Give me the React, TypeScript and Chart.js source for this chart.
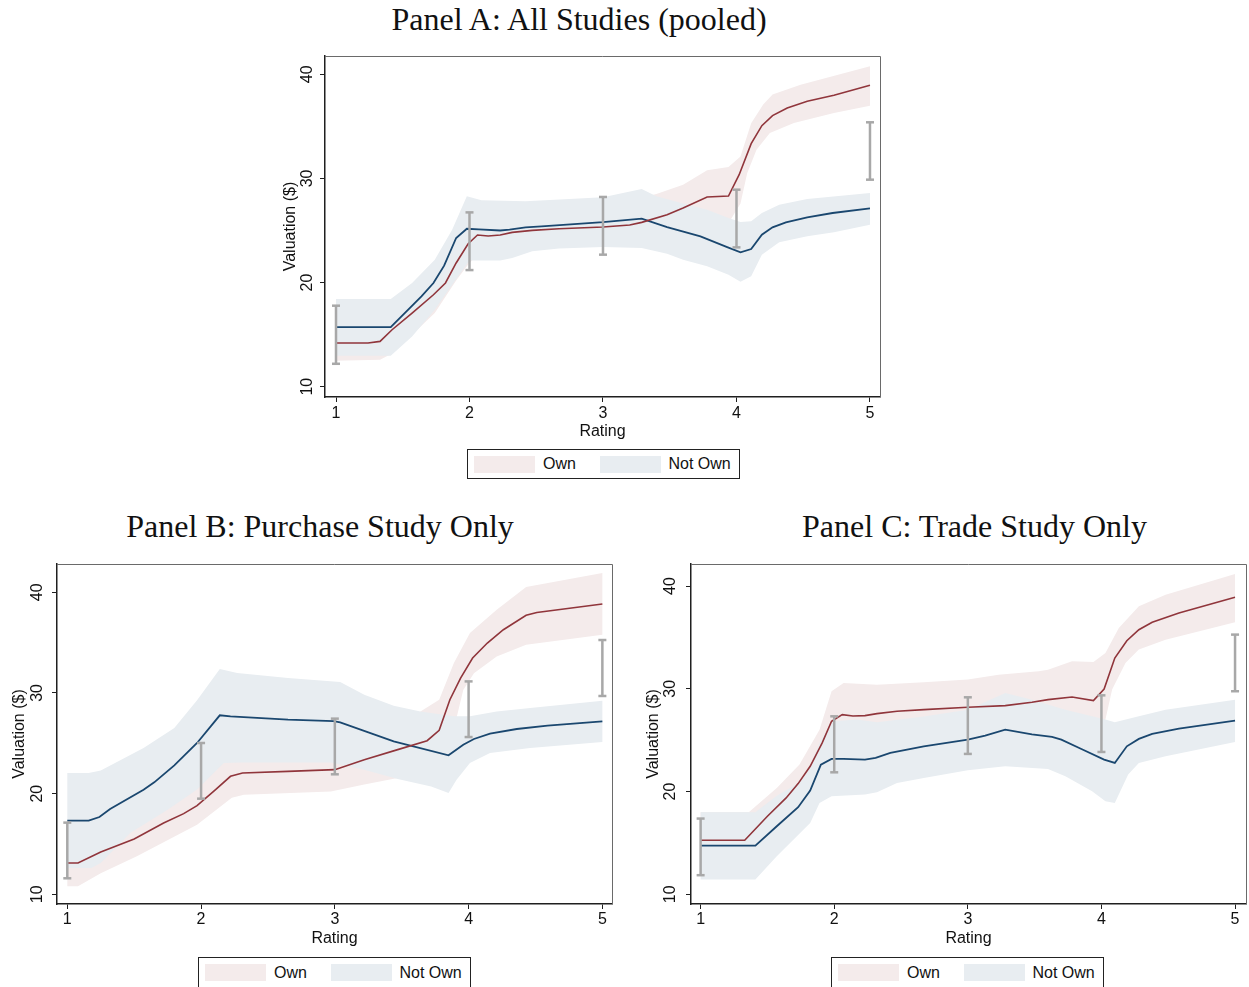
import React, { useEffect, useRef } from 'react';
import { Chart, registerables } from 'chart.js';

Chart.register(...registerables);

type Pt = [number, number];

// ---------- shared ----------
const RATING_TICKS = [1, 2, 3, 4, 5];
const VALUE_TICKS = [10, 20, 30, 40];
const ERR_RATINGS = [1, 2, 3, 4, 5];
const SERIES_LABELS = ['Own', 'Not Own'];
const X_TITLE = 'Rating';
const Y_TITLE = 'Valuation ($)';

// ---------- Panel A: All Studies (pooled) ----------
const A_OWN: Pt[] = [
  [1, 14.2], [1.24, 14.2], [1.33, 14.35], [1.42, 15.47], [1.57, 17.07], [1.73, 18.83], [1.82, 19.96],
  [1.9, 21.88], [1.99, 23.73], [2.06, 24.57], [2.14, 24.47], [2.23, 24.57], [2.32, 24.82], [2.47, 25.01],
  [2.67, 25.17], [3.0, 25.33], [3.2, 25.53], [3.29, 25.78], [3.48, 26.52], [3.6, 27.16], [3.78, 28.22],
  [3.94, 28.31], [4.02, 30.36], [4.11, 33.34], [4.19, 35.07], [4.27, 36.03], [4.38, 36.77], [4.53, 37.41],
  [4.73, 37.98], [5.0, 38.94],
];
const A_NOT: Pt[] = [
  [1, 15.73], [1.41, 15.73], [1.64, 18.67], [1.73, 19.96], [1.81, 21.62], [1.9, 24.28], [1.98, 25.17],
  [2.07, 25.1], [2.23, 25.0], [2.3, 25.08], [2.42, 25.3], [2.54, 25.4], [3.0, 25.8], [3.29, 26.14],
  [3.48, 25.33], [3.73, 24.44], [3.93, 23.41], [4.03, 22.9], [4.11, 23.22], [4.19, 24.6], [4.27, 25.3],
  [4.37, 25.78], [4.53, 26.26], [4.72, 26.68], [5.0, 27.13],
];
const A_OWN_HI: Pt[] = [
  [1, 16.0], [1.33, 16.2], [1.57, 18.6], [1.73, 20.5], [1.9, 23.5], [2.0, 25.6], [2.1, 26.1], [2.5, 26.5],
  [3.0, 27.1], [3.3, 28.2], [3.4, 28.5], [3.6, 29.4], [3.78, 30.78], [3.94, 31.1], [4.03, 32.1],
  [4.11, 35.3], [4.2, 37.1], [4.27, 38.05], [4.48, 39.0], [5.0, 40.77],
];
const A_OWN_LO: Pt[] = [
  [1, 12.5], [1.33, 12.6], [1.42, 13.2], [1.57, 15.0], [1.74, 17.07], [1.9, 20.2], [2.0, 21.9], [2.1, 23.0],
  [2.5, 23.4], [3.0, 23.7], [3.3, 24.0], [3.6, 25.0], [3.78, 25.6], [3.94, 25.7], [4.03, 27.6],
  [4.08, 30.5], [4.15, 32.76], [4.25, 34.36], [4.43, 35.32], [4.73, 36.29], [5.0, 36.99],
];
const A_NOT_HI: Pt[] = [
  [1, 18.42], [1.41, 18.42], [1.57, 19.96], [1.74, 22.2], [1.87, 25.08], [1.98, 28.28], [2.09, 27.9],
  [2.42, 27.8], [3.0, 28.2], [3.29, 28.99], [3.4, 28.28], [3.6, 27.6], [3.78, 27.0], [3.94, 26.2],
  [4.03, 25.82], [4.11, 25.88], [4.19, 26.68], [4.32, 27.48], [4.53, 28.02], [5.0, 28.6],
];
const A_NOT_LO: Pt[] = [
  [1, 12.97], [1.41, 12.97], [1.57, 14.83], [1.74, 17.4], [1.88, 19.96], [2.0, 22.13], [2.23, 22.13],
  [2.32, 22.36], [2.47, 23.0], [2.67, 23.28], [3.0, 23.41], [3.29, 23.32], [3.48, 22.77], [3.6, 22.2],
  [3.78, 21.56], [3.94, 20.76], [4.03, 20.08], [4.11, 20.6], [4.19, 22.68], [4.32, 23.86], [4.53, 24.44],
  [4.73, 24.82], [5.0, 25.56],
];
const A_ERR_LO = [12.2, 21.2, 22.68, 23.38, 29.88];
const A_ERR_HI = [17.78, 26.74, 28.22, 28.92, 35.39];

// ---------- Panel B: Purchase Study Only ----------
const B_OWN: Pt[] = [
  [1, 13.11], [1.08, 13.11], [1.25, 14.2], [1.5, 15.49], [1.72, 17.08], [1.87, 18.01], [1.97, 18.81],
  [2.1, 20.3], [2.22, 21.72], [2.31, 22.05], [2.65, 22.21], [3.0, 22.38], [3.22, 23.37], [3.47, 24.37],
  [3.69, 25.26], [3.78, 26.29], [3.86, 29.33], [3.94, 31.48], [4.03, 33.47], [4.14, 34.96], [4.26, 36.28],
  [4.43, 37.71], [4.51, 38.0], [5.0, 38.83],
];
const B_NOT: Pt[] = [
  [1, 17.31], [1.16, 17.31], [1.24, 17.68], [1.32, 18.47], [1.57, 20.39], [1.65, 21.12], [1.8, 22.81],
  [1.97, 25.03], [2.14, 27.78], [2.22, 27.68], [2.65, 27.35], [2.99, 27.21], [3.04, 27.08], [3.44, 25.2],
  [3.85, 23.81], [3.96, 24.86], [4.04, 25.43], [4.16, 25.96], [4.36, 26.42], [4.59, 26.75], [5.0, 27.18],
];
const B_OWN_HI: Pt[] = [
  [1, 15.2], [1.25, 16.2], [1.5, 17.4], [1.75, 18.68], [1.97, 21.39], [2.15, 23.14], [2.27, 23.2],
  [2.65, 23.3], [3.0, 23.6], [3.3, 24.8], [3.5, 26.2], [3.64, 28.17], [3.78, 29.33], [3.89, 32.97],
  [4.01, 35.95], [4.21, 38.27], [4.43, 40.52], [5.0, 41.91],
];
const B_OWN_LO: Pt[] = [
  [1, 10.79], [1.08, 10.79], [1.25, 12.1], [1.52, 13.77], [1.97, 16.9], [2.23, 19.6], [2.32, 19.9],
  [2.97, 20.2], [3.22, 20.9], [3.47, 21.55], [3.7, 22.6], [3.8, 24.0], [3.9, 27.0], [3.96, 30.3],
  [4.04, 31.97], [4.21, 33.63], [4.43, 34.79], [5.0, 35.78],
];
const B_NOT_HI: Pt[] = [
  [1, 22.05], [1.16, 22.05], [1.25, 22.31], [1.57, 24.53], [1.8, 26.52], [1.97, 29.27], [2.14, 32.38],
  [2.27, 31.98], [2.65, 31.49], [3.04, 31.09], [3.22, 29.83], [3.44, 28.74], [3.64, 28.17], [3.89, 27.68],
  [4.01, 27.68], [4.21, 28.17], [4.46, 28.51], [5.0, 29.23],
];
const B_NOT_LO: Pt[] = [
  [1, 12.62], [1.18, 12.62], [1.25, 13.11], [1.47, 16.09], [1.75, 18.41], [1.97, 20.4], [2.17, 23.04],
  [2.3, 23.1], [2.97, 23.1], [3.22, 22.38], [3.47, 21.45], [3.72, 20.72], [3.85, 20.06], [3.91, 21.39],
  [4.01, 23.04], [4.16, 24.04], [4.46, 24.53], [5.0, 25.13],
];
const B_ERR_LO = [11.59, 19.5, 21.92, 25.62, 29.7];
const B_ERR_HI = [17.12, 25.03, 27.45, 31.15, 35.26];

// ---------- Panel C: Trade Study Only ----------
const C_OWN: Pt[] = [
  [1, 15.26], [1.33, 15.26], [1.5, 17.6], [1.64, 19.38], [1.73, 20.77], [1.82, 22.46], [1.91, 24.73],
  [1.98, 26.84], [2.06, 27.48], [2.14, 27.35], [2.23, 27.39], [2.32, 27.58], [2.47, 27.81], [2.67, 27.97],
  [3.0, 28.2], [3.28, 28.36], [3.48, 28.68], [3.6, 28.94], [3.78, 29.2], [3.94, 28.85], [4.02, 29.98],
  [4.1, 32.99], [4.19, 34.68], [4.28, 35.75], [4.38, 36.47], [4.58, 37.37], [5.0, 38.9],
];
const C_NOT: Pt[] = [
  [1, 14.74], [1.41, 14.74], [1.57, 16.62], [1.73, 18.47], [1.82, 20.09], [1.9, 22.62], [1.98, 23.17],
  [2.07, 23.17], [2.23, 23.11], [2.31, 23.27], [2.42, 23.76], [2.67, 24.4], [3.0, 25.05], [3.13, 25.44],
  [3.28, 26.02], [3.48, 25.57], [3.63, 25.31], [3.7, 25.05], [3.85, 24.14], [4.02, 23.11], [4.1, 22.78],
  [4.19, 24.4], [4.28, 25.12], [4.38, 25.6], [4.58, 26.12], [5.0, 26.9],
];
const C_OWN_HI: Pt[] = [
  [1, 17.98], [1.36, 17.98], [1.57, 20.35], [1.74, 22.62], [1.89, 26.02], [1.98, 29.75], [2.07, 30.56],
  [2.32, 30.4], [2.67, 30.63], [3.0, 30.9], [3.23, 31.37], [3.53, 31.7], [3.6, 31.86], [3.78, 32.67],
  [3.94, 32.6], [4.03, 33.48], [4.13, 35.91], [4.28, 38.02], [4.48, 39.16], [5.0, 41.17],
];
const C_OWN_LO: Pt[] = [
  [1, 12.6], [1.33, 12.6], [1.5, 14.9], [1.73, 18.3], [1.9, 22.0], [2.0, 24.3], [2.1, 24.6], [2.5, 25.0],
  [3.0, 25.4], [3.5, 25.8], [3.78, 26.0], [3.94, 25.5], [4.03, 27.0], [4.08, 29.92], [4.18, 32.51],
  [4.28, 33.81], [4.48, 34.78], [5.0, 36.47],
];
const C_NOT_HI: Pt[] = [
  [1, 17.98], [1.41, 17.98], [1.57, 19.6], [1.73, 20.8], [1.82, 22.5], [1.9, 25.0], [1.99, 26.84],
  [2.17, 27.0], [2.32, 26.74], [2.67, 27.3], [3.0, 27.97], [3.28, 29.59], [3.48, 28.94], [3.73, 27.97],
  [3.93, 27.32], [4.03, 27.0], [4.1, 26.74], [4.28, 27.32], [4.48, 27.97], [5.0, 28.94],
];
const C_NOT_LO: Pt[] = [
  [1, 11.43], [1.41, 11.43], [1.57, 13.7], [1.82, 16.95], [1.89, 18.89], [1.98, 19.54], [2.23, 19.7],
  [2.32, 19.93], [2.47, 20.84], [2.67, 21.32], [3.0, 22.07], [3.28, 22.46], [3.6, 22.2], [3.73, 21.48],
  [3.93, 20.03], [4.03, 19.05], [4.1, 18.89], [4.2, 21.65], [4.28, 22.78], [4.48, 23.43], [5.0, 24.82],
];
const C_ERR_LO = [11.86, 21.87, 23.66, 23.85, 29.76];
const C_ERR_HI = [17.37, 27.32, 29.17, 29.36, 35.27];

// ---------- styling ----------
const OWN_LINE = '#90353B';
const NOT_LINE = '#1A476F';
const OWN_BAND = '#F4EBEB';
const NOT_BAND = '#E8EDF1';
const ERR_COLOR = '#A8A8A8';
const AXIS_COLOR = '#1f1f1f';
const FRAME_COLOR = '#6a6a6a';
const TEXT_COLOR = '#111111';
const SANS = '"Liberation Sans", Arial, sans-serif';
const SERIF = '"Liberation Serif", "Times New Roman", serif';

interface PanelSpec {
  title: string;
  titleCenter: number;
  titleTop: number;
  own: Pt[]; not: Pt[]; ownHi: Pt[]; ownLo: Pt[]; notHi: Pt[]; notLo: Pt[];
  errLo: number[]; errHi: number[];
  left: number; top: number; width: number; height: number;
  padTop: number; padRight: number; yAxisW: number; xAxisH: number;
  xMin: number; xMax: number; yMin: number; yMax: number;
  yTickPad: number; yTitlePad: number; xTickPad: number; xTitlePad: number;
  legendLeft: number; legendTop: number; legendH: number;
}

const PANELS: PanelSpec[] = [
  {
    title: 'Panel A: All Studies (pooled)', titleCenter: 579, titleTop: 3,
    own: A_OWN, not: A_NOT, ownHi: A_OWN_HI, ownLo: A_OWN_LO, notHi: A_NOT_HI, notLo: A_NOT_LO,
    errLo: A_ERR_LO, errHi: A_ERR_HI,
    left: 270, top: 50, width: 620, height: 395,
    padTop: 6, padRight: 10, yAxisW: 55, xAxisH: 48,
    xMin: 0.9176, xMax: 5.075, yMin: 9.011, yMax: 41.757,
    yTickPad: 4, yTitlePad: 11.2, xTickPad: 1.5, xTitlePad: 3.6,
    legendLeft: 467, legendTop: 449, legendH: 30,
  },
  {
    title: 'Panel B: Purchase Study Only', titleCenter: 320, titleTop: 510,
    own: B_OWN, not: B_NOT, ownHi: B_OWN_HI, ownLo: B_OWN_LO, notHi: B_NOT_HI, notLo: B_NOT_LO,
    errLo: B_ERR_LO, errHi: B_ERR_HI,
    left: 0, top: 558, width: 622, height: 397,
    padTop: 6, padRight: 10, yAxisW: 57, xAxisH: 51,
    xMin: 0.923, xMax: 5.072, yMin: 9.036, yMax: 42.811,
    yTickPad: 5.1, yTitlePad: 10.2, xTickPad: 0.6, xTitlePad: 6.4,
    legendLeft: 198, legendTop: 957, legendH: 31,
  },
  {
    title: 'Panel C: Trade Study Only', titleCenter: 974.5, titleTop: 510,
    own: C_OWN, not: C_NOT, ownHi: C_OWN_HI, ownLo: C_OWN_LO, notHi: C_NOT_HI, notLo: C_NOT_LO,
    errLo: C_ERR_LO, errHi: C_ERR_HI,
    left: 634, top: 558, width: 615, height: 397,
    padTop: 6, padRight: 3, yAxisW: 57, xAxisH: 51,
    xMin: 0.928, xMax: 5.082, yMin: 9.056, yMax: 42.141,
    yTickPad: 6.1, yTitlePad: 9.6, xTickPad: 0.6, xTitlePad: 6.4,
    legendLeft: 831, legendTop: 957, legendH: 31,
  },
];

const toXY = (pts: Pt[]) => pts.map(([x, y]) => ({ x, y }));
const bandShape = (hi: Pt[], lo: Pt[]) => [...toXY(hi), ...toXY(lo).reverse()];
const errData = (lo: number[], hi: number[]) =>
  ERR_RATINGS.flatMap((r, i) => [
    { x: r, y: lo[i] },
    { x: r, y: hi[i] },
    { x: r, y: null as any },
  ]);

const framePlugin = {
  id: 'plotFrame',
  afterDraw(chart: any) {
    const { ctx, chartArea: a } = chart;
    ctx.save();
    ctx.strokeStyle = FRAME_COLOR;
    ctx.lineWidth = 1;
    ctx.beginPath();
    ctx.moveTo(Math.round(a.left), Math.round(a.top) + 0.5);
    ctx.lineTo(Math.round(a.right) + 0.5, Math.round(a.top) + 0.5);
    ctx.lineTo(Math.round(a.right) + 0.5, Math.round(a.bottom));
    ctx.stroke();
    ctx.restore();
  },
};

function buildConfig(p: PanelSpec): any {
  const axisFont = { family: SANS, size: 16 };
  const grid = {
    display: true,
    drawOnChartArea: false,
    drawTicks: true,
    tickLength: 5,
    tickColor: AXIS_COLOR,
    tickWidth: 1,
  };
  const border = { display: true, color: AXIS_COLOR, width: 1.5 };
  return {
    type: 'line',
    data: {
      datasets: [
        {
          label: 'CI',
          data: errData(p.errLo, p.errHi),
          order: 0,
          borderColor: ERR_COLOR,
          borderWidth: 2.5,
          spanGaps: false,
          pointStyle: 'line',
          pointRadius: 4,
          pointBorderWidth: 2.5,
          pointBorderColor: ERR_COLOR,
          pointBackgroundColor: ERR_COLOR,
          fill: false,
        },
        {
          label: SERIES_LABELS[0],
          data: toXY(p.own),
          order: 1,
          borderColor: OWN_LINE,
          borderWidth: 1.6,
          pointRadius: 0,
          fill: false,
          tension: 0,
        },
        {
          label: SERIES_LABELS[1],
          data: toXY(p.not),
          order: 2,
          borderColor: NOT_LINE,
          borderWidth: 1.8,
          pointRadius: 0,
          fill: false,
          tension: 0,
        },
        {
          label: SERIES_LABELS[1] + ' band',
          data: bandShape(p.notHi, p.notLo),
          order: 3,
          borderColor: 'rgba(0,0,0,0)',
          borderWidth: 0,
          backgroundColor: NOT_BAND,
          pointRadius: 0,
          fill: 'shape',
          tension: 0,
        },
        {
          label: SERIES_LABELS[0] + ' band',
          data: bandShape(p.ownHi, p.ownLo),
          order: 4,
          borderColor: 'rgba(0,0,0,0)',
          borderWidth: 0,
          backgroundColor: OWN_BAND,
          pointRadius: 0,
          fill: 'shape',
          tension: 0,
        },
      ],
    },
    options: {
      responsive: false,
      maintainAspectRatio: false,
      animation: false,
      events: [],
      layout: { autoPadding: false, padding: { top: p.padTop, right: p.padRight, left: 0, bottom: 0 } },
      plugins: {
        legend: { display: false },
        title: { display: false },
        tooltip: { enabled: false },
      },
      scales: {
        x: {
          type: 'linear',
          min: p.xMin,
          max: p.xMax,
          afterBuildTicks: (s: any) => {
            s.ticks = RATING_TICKS.map((v) => ({ value: v }));
          },
          afterFit: (s: any) => {
            s.height = p.xAxisH;
            s.paddingLeft = 0;
            s.paddingRight = 0;
            s.paddingTop = 0;
            s.paddingBottom = 0;
          },
          grid,
          border,
          ticks: {
            font: axisFont,
            color: TEXT_COLOR,
            padding: p.xTickPad,
            minRotation: 0,
            maxRotation: 0,
            autoSkip: false,
            callback: (v: any) => String(v),
          },
          title: {
            display: true,
            text: X_TITLE,
            font: axisFont,
            color: TEXT_COLOR,
            padding: { top: 0, bottom: p.xTitlePad },
          },
        },
        y: {
          type: 'linear',
          min: p.yMin,
          max: p.yMax,
          afterBuildTicks: (s: any) => {
            s.ticks = VALUE_TICKS.map((v) => ({ value: v }));
          },
          afterFit: (s: any) => {
            s.width = p.yAxisW;
            s.paddingLeft = 0;
            s.paddingRight = 0;
            s.paddingTop = 0;
            s.paddingBottom = 0;
          },
          grid,
          border,
          ticks: {
            font: axisFont,
            color: TEXT_COLOR,
            padding: p.yTickPad,
            minRotation: 90,
            maxRotation: 90,
            crossAlign: 'center',
            autoSkip: false,
            callback: (v: any) => String(v),
          },
          title: {
            display: true,
            text: Y_TITLE,
            font: axisFont,
            color: TEXT_COLOR,
            padding: { top: p.yTitlePad, bottom: 0 },
          },
        },
      },
    },
    plugins: [framePlugin],
  };
}

function PanelChart({ p }: { p: PanelSpec }) {
  const ref = useRef<HTMLCanvasElement | null>(null);
  useEffect(() => {
    if (!ref.current) return;
    const chart = new Chart(ref.current, buildConfig(p));
    return () => chart.destroy();
  }, [p]);
  return (
    <canvas
      ref={ref}
      width={p.width}
      height={p.height}
      style={{ position: 'absolute', left: p.left, top: p.top, width: p.width, height: p.height, display: 'block' }}
    />
  );
}

function Legend({ p }: { p: PanelSpec }) {
  const inner = p.legendH - 2;
  const sw = (left: number, color: string) => (
    <div style={{ position: 'absolute', left, top: (inner - 17) / 2, width: 61, height: 17, background: color }} />
  );
  const label = (left: number, text: string) => (
    <div
      style={{
        position: 'absolute', left, top: 0, height: inner, lineHeight: inner + 'px',
        fontFamily: SANS, fontSize: 16, color: TEXT_COLOR, whiteSpace: 'nowrap',
      }}
    >
      {text}
    </div>
  );
  return (
    <div
      style={{
        position: 'absolute', left: p.legendLeft, top: p.legendTop, width: 273, height: p.legendH,
        border: '1px solid #222', boxSizing: 'border-box', background: '#fff',
      }}
    >
      {sw(5.5, OWN_BAND)}
      {label(75, SERIES_LABELS[0])}
      {sw(131.5, NOT_BAND)}
      {label(200.5, SERIES_LABELS[1])}
    </div>
  );
}

function Title({ p }: { p: PanelSpec }) {
  return (
    <div
      style={{
        position: 'absolute', left: p.titleCenter - 300, width: 600, top: p.titleTop, textAlign: 'center',
        fontFamily: SERIF, fontSize: 32, lineHeight: '32px', color: '#111', whiteSpace: 'nowrap',
      }}
    >
      {p.title}
    </div>
  );
}

export default function App() {
  return (
    <div
      style={{
        position: 'absolute', left: 0, top: 0, width: 1249, height: 987, overflow: 'hidden', background: '#fff',
      }}
    >
      {PANELS.map((p, i) => (
        <React.Fragment key={i}>
          <Title p={p} />
          <PanelChart p={p} />
          <Legend p={p} />
        </React.Fragment>
      ))}
    </div>
  );
}
